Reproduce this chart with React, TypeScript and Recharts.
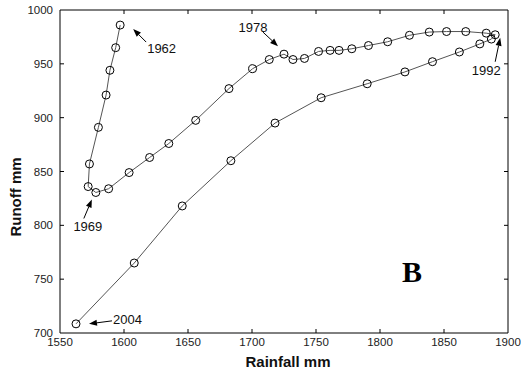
import { ScatterChart, Scatter, XAxis, YAxis, ReferenceLine } from "recharts";

// annual rainfall vs runoff, 1962-2004
const years = [
  1962, 1963, 1964, 1965, 1966, 1967, 1968, 1969, 1970, 1971, 1972, 1973, 1974, 1975,
  1976, 1977, 1978, 1979, 1980, 1981, 1982, 1983, 1984, 1985, 1986, 1987, 1988, 1989,
  1990, 1991, 1992, 1993, 1994, 1995, 1996, 1997, 1998, 1999, 2000, 2001, 2002, 2003,
  2004,
];
const rainfall = [
  1597, 1593.5, 1589, 1586, 1580, 1573, 1572, 1578, 1588, 1604, 1620, 1635, 1656, 1682,
  1700.5, 1713.5, 1725, 1732, 1741, 1752, 1761, 1768, 1778, 1791, 1806, 1823, 1838.5, 1852,
  1867, 1883, 1890, 1887, 1878, 1862, 1841, 1819.5, 1790, 1754, 1718, 1683.5, 1645.5, 1608,
  1562.5,
];
const runoff = [
  986, 965, 944, 921, 891, 857, 836, 830.5, 834, 849, 863, 876, 897.5, 927,
  945.5, 954, 959, 954, 955, 961.5, 962.5, 962.5, 964, 967, 970.5, 976.5, 979.5, 980,
  980, 978.5, 977, 973, 968.5, 961, 952, 942.5, 931.5, 918.5, 895, 860, 818, 765,
  708.5,
];
const xTicks = [1550, 1600, 1650, 1700, 1750, 1800, 1850, 1900];
const yTicks = [700, 750, 800, 850, 900, 950, 1000];
const labelledYears = [1962, 1969, 1978, 1992, 2004];

const points = years.map((year, i) => ({ year, rainfall: rainfall[i], runoff: runoff[i] }));
const labelPoints = points.filter((p) => labelledYears.includes(p.year));

// arrow tip / tail and text placement, in px relative to the marker
const annot: Record<number, { tip: number[]; tail: number[]; text: number[]; anchor: string }> = {
  1962: { tip: [13, 4], tail: [26, 17], text: [27, 28], anchor: "start" },
  1969: { tip: [-4, 7], tail: [-12, 26], text: [-8, 39], anchor: "middle" },
  1978: { tip: [-6, -8], tail: [-21, -22], text: [-31, -22], anchor: "middle" },
  1992: { tip: [5, 3], tail: [0, 27], text: [-9, 40], anchor: "middle" },
  2004: { tip: [13, 0], tail: [36, -3], text: [37, 0], anchor: "start" },
};

const W = 521;
const H = 373;
const M = { top: 10, right: 13, left: 0, bottom: 0 };
const Y_W = 60;
const X_H = 40;
const PLOT_W = W - M.left - M.right - Y_W;
const PLOT_H = H - M.top - M.bottom - X_H;
const TICK = 4;
const font = "'Liberation Sans', Arial, sans-serif";

const XTick = (props: any) => {
  const { x, y, payload } = props;
  const edge = payload.value === xTicks[0] || payload.value === xTicks[xTicks.length - 1];
  return (
    <g>
      {!edge && <line x1={x} y1={y} x2={x} y2={y - TICK} stroke="#000" />}
      {!edge && <line x1={x} y1={y - PLOT_H} x2={x} y2={y - PLOT_H + TICK} stroke="#000" />}
      <text x={x} y={y + 13} textAnchor="middle" fontFamily={font} fontSize={11.5} fill="#222">
        {payload.value}
      </text>
    </g>
  );
};

const YTick = (props: any) => {
  const { x, y, payload } = props;
  const edge = payload.value === yTicks[0] || payload.value === yTicks[yTicks.length - 1];
  return (
    <g>
      {!edge && <line x1={x} y1={y} x2={x + TICK} y2={y} stroke="#000" />}
      {!edge && <line x1={x + PLOT_W} y1={y} x2={x + PLOT_W - TICK} y2={y} stroke="#000" />}
      <text x={x - 7} y={y + 4} textAnchor="end" fontFamily={font} fontSize={11.5} fill="#222">
        {payload.value}
      </text>
    </g>
  );
};

const Marker = (props: any) => (
  <circle cx={props.cx} cy={props.cy} r={4} fill="none" stroke="#000" strokeWidth={1} />
);

const Annotation = (props: any) => {
  const { cx, cy, payload } = props;
  const a = annot[payload.year];
  if (!a) return null;
  const tx = cx + a.tip[0];
  const ty = cy + a.tip[1];
  const sx = cx + a.tail[0];
  const sy = cy + a.tail[1];
  const ang = Math.atan2(ty - sy, tx - sx);
  const len = 8;
  const hw = 3;
  const bx = tx - len * Math.cos(ang);
  const by = ty - len * Math.sin(ang);
  const px = -Math.sin(ang) * hw;
  const py = Math.cos(ang) * hw;
  return (
    <g>
      <line x1={sx} y1={sy} x2={bx} y2={by} stroke="#000" strokeWidth={1} />
      <polygon points={`${tx},${ty} ${bx + px},${by + py} ${bx - px},${by - py}`} fill="#000" />
      <text
        x={cx + a.text[0]}
        y={cy + a.text[1]}
        textAnchor={a.anchor}
        fontFamily={font}
        fontSize={13}
        fill="#111"
      >
        {payload.year}
      </text>
    </g>
  );
};

export default function App() {
  return (
    <div style={{ position: "absolute", left: 0, top: 0, background: "#fff" }}>
      <ScatterChart width={W} height={H} margin={M}>
        <XAxis
          type="number"
          dataKey="rainfall"
          domain={[1550, 1900]}
          ticks={xTicks}
          height={X_H}
          tickSize={0}
          tickMargin={0}
          tick={<XTick />}
          axisLine={{ stroke: "#000" }}
          interval={0}
          label={{
            value: "Rainfall mm",
            position: "insideBottom",
            offset: 6,
            dx: 4,
            fontFamily: font,
            fontSize: 15,
            fontWeight: "bold",
            fill: "#111",
          }}
        />
        <YAxis
          type="number"
          dataKey="runoff"
          domain={[700, 1000]}
          ticks={yTicks}
          width={Y_W}
          tickSize={0}
          tickMargin={0}
          tick={<YTick />}
          axisLine={{ stroke: "#000" }}
          interval={0}
          label={{
            content: () => (
              <text
                x={21}
                y={197}
                transform="rotate(-90 21 197)"
                textAnchor="middle"
                fontFamily={font}
                fontSize={15}
                fontWeight="bold"
                fill="#111"
              >
                Runoff mm
              </text>
            ),
          }}
        />
        <ReferenceLine x={1900} stroke="#000" />
        <ReferenceLine y={1000} stroke="#000" />
        <ReferenceLine
          x={1820}
          stroke="none"
          label={{
            content: () => (
              <text
                x={412}
                y={282}
                textAnchor="middle"
                fontFamily="'Liberation Serif', 'Times New Roman', serif"
                fontSize={30}
                fontWeight="bold"
                fill="#000"
              >
                B
              </text>
            ),
          }}
        />
        <Scatter
          data={points}
          line={{ stroke: "#555", strokeWidth: 1 }}
          shape={<Marker />}
          isAnimationActive={false}
        />
        <Scatter data={labelPoints} shape={<Annotation />} isAnimationActive={false} />
      </ScatterChart>
    </div>
  );
}
